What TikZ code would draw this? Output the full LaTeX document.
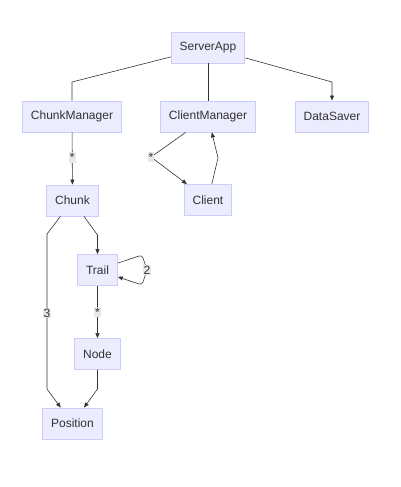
\documentclass[tikz,border=0pt]{standalone}
\usepackage{fontspec}
\setmainfont{Liberation Sans}
\usetikzlibrary{arrows.meta}
\definecolor{boxfill}{HTML}{ECECFF}
\definecolor{boxline}{HTML}{CCCCFF}
\definecolor{txt}{HTML}{333333}
\definecolor{edge}{HTML}{333333}
\definecolor{lblbg}{HTML}{E8E8E8}
\begin{document}
\begin{tikzpicture}[x=1pt,y=-1pt,
  cls/.style={draw=boxline, fill=boxfill, line width=0.8pt, text=txt,
    font=\fontsize{12}{14}\selectfont, minimum height=31pt, inner xsep=8.5pt, inner ysep=0pt},
  conn/.style={draw=edge, line width=0.6pt},
  arr/.style={conn, -{Triangle[length=5pt,width=4pt]}},
  lbl/.style={fill=lblbg, text=txt, font=\fontsize{12}{14}\selectfont, inner sep=1pt}]
\useasboundingbox (0,0) rectangle (400,487);
\node[cls] (sa) at (208,47.5) {ServerApp};
\node[cls] (cmg) at (72,116.5) {ChunkManager};
\node[cls] (clm) at (208,116.5) {ClientManager};
\node[cls] (ds) at (332,116.5) {DataSaver};
\node[cls] (ch) at (72.5,200.5) {Chunk};
\node[cls] (cl) at (208,200) {Client};
\node[cls] (tr) at (97.5,270) {Trail};
\node[cls] (nd) at (97.5,354) {Node};
\node[cls] (pos) at (72.5,423.5) {Position};
% bend points
\coordinate (b1) at (72,82);
\coordinate (b2) at (332,82);
\coordinate (b3) at (151,157);
\coordinate (b4) at (218,158);
\coordinate (b5) at (47,234);
\coordinate (b6) at (47,389);
\coordinate (b7) at (97.5,235);
\coordinate (b8) at (97.5,389);
\coordinate (l1) at (142,255);
\coordinate (l2) at (147,270);
\coordinate (l3) at (142,285);
% connectors
\draw[conn] (sa) -- (b1) -- (cmg);
\draw[conn] (sa) -- (clm);
\draw[arr] (sa) -- (b2) -- (ds);
\draw[arr] (cmg) -- (ch) node[lbl, pos=0.48] {*};
\draw[arr] (clm) -- (b3) -- (cl);
\node[lbl] at (b3) {*};
\draw[arr] (cl) -- (b4) -- (clm);
\draw[arr] (ch) -- (b5) -- (b6) -- (pos);
\node[lbl] at (47,313) {3};
\draw[arr] (ch) -- (b7) -- (tr);
\draw[arr, rounded corners=3pt] (tr) -- (l1) -- (l2) -- (l3) -- (tr);
\node[lbl] at (l2) {2};
\draw[arr] (tr) -- (nd) node[lbl, pos=0.5] {*};
\draw[arr] (nd) -- (b8) -- (pos);
\end{tikzpicture}
\end{document}
